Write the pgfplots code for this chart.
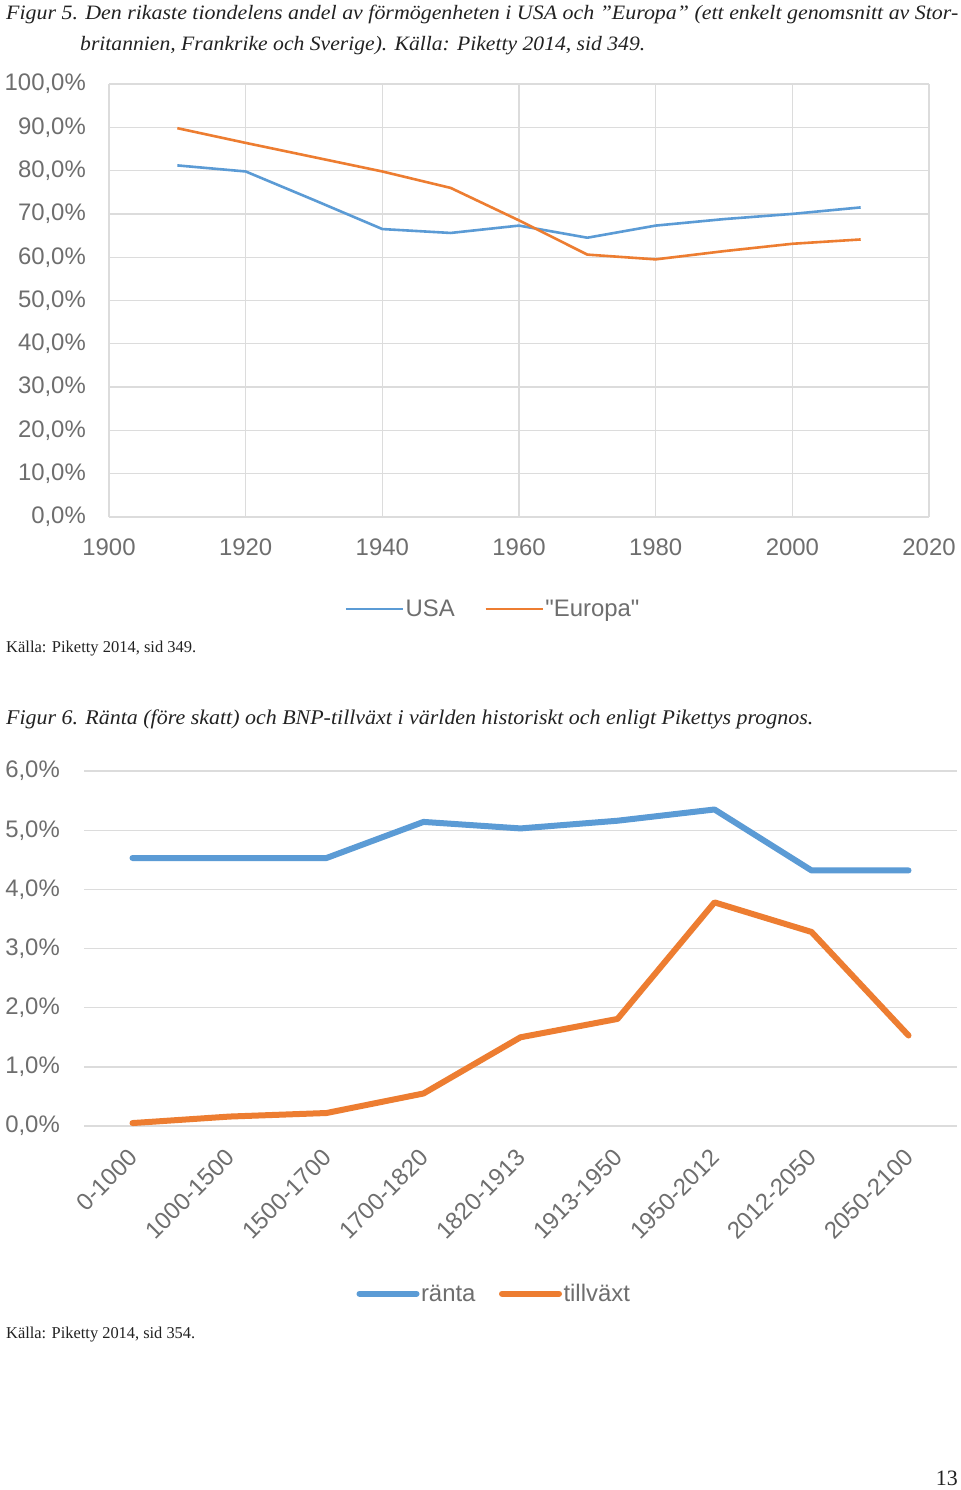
\documentclass[border=0pt]{standalone}
\usepackage{fontspec}
\usepackage{graphicx}
\usepackage{pgfplots}
\pgfplotsset{compat=1.18}
\setmainfont{Liberation Serif}
\newfontfamily\arialf{Liberation Sans}
\definecolor{cblue}{HTML}{5B9BD5}
\definecolor{corange}{HTML}{ED7D31}
\definecolor{tickgray}{HTML}{6E6E6E}
\definecolor{gridgray}{HTML}{DCDCDC}
\definecolor{captxt}{HTML}{222222}
\newcommand\tickfont{\arialf\fontsize{24}{24}\selectfont}
\begin{document}
\begin{tikzpicture}[x=1bp,y=1bp]
\path[use as bounding box, fill=white] (0,0) rectangle (960,-1490);
% captions
\node[anchor=base west, inner sep=0, text=captxt] at (6,-19.5) {\resizebox{952bp}{\height}{\fontsize{20.5}{24}\selectfont\itshape Figur 5. Den rikaste tiondelens andel av förmögenheten i USA och ”Europa” (ett enkelt genomsnitt av Stor-}};
\node[anchor=base west, inner sep=0, text=captxt] at (80,-50.5) {\resizebox{565bp}{\height}{\fontsize{20.5}{24}\selectfont\itshape britannien, Frankrike och Sverige). Källa: Piketty 2014, sid 349.}};
\node[anchor=base west, inner sep=0, text=captxt] at (6,-652) {\resizebox{190bp}{\height}{\fontsize{16.6}{20}\selectfont Källa: Piketty 2014, sid 349.}};
\node[anchor=base west, inner sep=0, text=captxt] at (6,-724.5) {\resizebox{807bp}{\height}{\fontsize{21}{24}\selectfont\itshape Figur 6. Ränta (före skatt) och BNP-tillväxt i världen historiskt och enligt Pikettys prognos.}};
\node[anchor=base west, inner sep=0, text=captxt] at (6,-1338) {\resizebox{189bp}{\height}{\fontsize{16.6}{20}\selectfont Källa: Piketty 2014, sid 354.}};
\node[anchor=base east, inner sep=0, text=captxt] at (958,-1485) {\fontsize{22}{24}\selectfont 13};

% ---------- Chart 1 ----------
\begin{axis}[
  at={(109bp,-517bp)}, anchor=south west,
  scale only axis, width=820bp, height=433bp,
  xmin=1900, xmax=2020, ymin=0, ymax=100,
  xtick={1900,1920,1940,1960,1980,2000,2020},
  xticklabels={1900,1920,1940,1960,1980,2000,2020},
  ytick={0,10,20,30,40,50,60,70,80,90,100},
  yticklabels={{0,0\%},{10,0\%},{20,0\%},{30,0\%},{40,0\%},{50,0\%},{60,0\%},{70,0\%},{80,0\%},{90,0\%},{100,0\%}},
  grid=major, major grid style={draw=gridgray, line width=1.3bp},
  axis line style={draw=none},
  major tick length=0pt,
  tick label style={font=\tickfont, text=tickgray},
  yticklabel style={anchor=east, inner sep=0pt, xshift=-23bp},
  xticklabel style={anchor=north, inner sep=0pt, yshift=-22bp},
  legend columns=2,
  legend style={at={(0.468,-0.2125)}, anchor=center, draw=none, fill=none,
    font=\tickfont, text=tickgray, nodes={inner sep=1.5bp},
    /tikz/every even column/.append style={column sep=28bp}},
  legend image code/.code={\draw[#1] (0bp,0bp) -- (57bp,0bp);},
]
\addplot[color=cblue, line width=2.6bp, line join=round] coordinates {
 (1910,81.2) (1920,79.8) (1930,73.2) (1940,66.5) (1950,65.6) (1960,67.3)
 (1970,64.5) (1980,67.3) (1990,68.8) (2000,70.0) (2010,71.5)};
\addlegendentry{USA}
\addplot[color=corange, line width=2.6bp, line join=round] coordinates {
 (1910,89.8) (1920,86.4) (1930,83.1) (1940,79.8) (1950,76.0) (1960,68.5)
 (1970,60.6) (1980,59.5) (1990,61.4) (2000,63.1) (2010,64.1)};
\addlegendentry{"Europa"}
\end{axis}

% ---------- Chart 2 ----------
\begin{axis}[
  at={(84bp,-1126bp)}, anchor=south west,
  scale only axis, width=873bp, height=355bp,
  xmin=-0.5, xmax=8.5, ymin=0, ymax=6,
  xtick={0,1,2,3,4,5,6,7,8},
  xticklabels={0-1000,1000-1500,1500-1700,1700-1820,1820-1913,1913-1950,1950-2012,2012-2050,2050-2100},
  ytick={0,1,2,3,4,5,6},
  yticklabels={{0,0\%},{1,0\%},{2,0\%},{3,0\%},{4,0\%},{5,0\%},{6,0\%}},
  ymajorgrids, major grid style={draw=gridgray, line width=1.3bp},
  axis line style={draw=none},
  major tick length=0pt,
  tick label style={font=\tickfont, text=tickgray},
  yticklabel style={anchor=east, inner sep=0pt, xshift=-24bp},
  xticklabel style={rotate=45, anchor=east, inner sep=0pt, xshift=-19bp, yshift=-20bp},
  legend columns=2,
  legend style={at={(0.4696,-0.472)}, anchor=center, draw=none, fill=none,
    font=\tickfont, text=tickgray, nodes={inner sep=1.5bp},
    /tikz/every even column/.append style={column sep=22bp}},
  legend image code/.code={\draw[#1] (0bp,0bp) -- (57bp,0bp);},
]
\addplot[color=cblue, line width=6bp, line join=round, line cap=round] coordinates {
 (0,4.53) (1,4.53) (2,4.53) (3,5.14) (4,5.03) (5,5.16) (6,5.35) (7,4.32) (8,4.32)};
\addlegendentry{ränta}
\addplot[color=corange, line width=6bp, line join=round, line cap=round] coordinates {
 (0,0.05) (1,0.16) (2,0.22) (3,0.55) (4,1.50) (5,1.81) (6,3.78) (7,3.28) (8,1.53)};
\addlegendentry{tillväxt}
\end{axis}
\end{tikzpicture}
\end{document}
